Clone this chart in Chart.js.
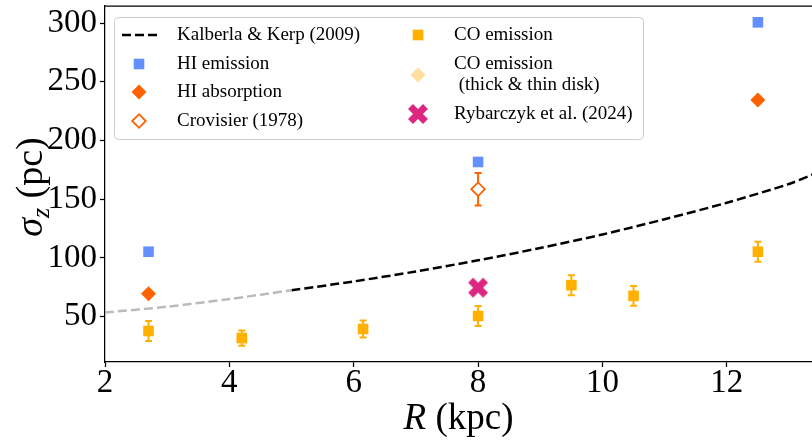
<!DOCTYPE html>
<html><head><meta charset="utf-8">
<script src="https://cdn.jsdelivr.net/npm/chart.js@4/dist/chart.umd.min.js"></script>
<style>html,body{margin:0;padding:0;background:#fff;overflow:hidden}canvas{display:block}</style>
</head><body>
<canvas id="c" width="812" height="440" style="width:812px;height:440px"></canvas>
<script>
// ---- data ----
const kkR = [2, 3, 4, 5, 6, 7, 8, 9, 10, 11, 12, 13, 13.4];
const kkSigma = [53.5, 58.5, 65, 72.5, 80, 88.5, 98, 108.5, 120, 133, 147, 163, 171.5];
const kkSplitR = 5;

const hiEmR = [2.7, 8, 12.5];
const hiEmSigma = [105.3, 181.7, 300.6];
const hiAbsR = [2.7, 12.5];
const hiAbsSigma = [69.5, 234.5];
const crovR = [8];
const crovSigma = [158.5];
const crovErr = [13.8];
const coR = [2.7, 4.2, 6.15, 8, 9.5, 10.5, 12.5];
const coSigma = [37.8, 31.8, 39.5, 50.6, 76.8, 67.7, 105.3];
const coErr = [8.5, 6.5, 7.2, 8.5, 8.5, 8.5, 8.5];
const coDiskR = [];
const coDiskSigma = [];
const rybR = [8];
const rybSigma = [74.7];

const xTicks = [2, 4, 6, 8, 10, 12];
const yTicks = [50, 100, 150, 200, 250, 300];

// ---- styling ----
const C_HIEM = '#648FFF', C_ORANGE = '#FE6100', C_CO = '#FFB000', C_CODISK = '#FFDF9E', C_RYB = '#DC267F';
const FONT = 'Liberation Serif, Times New Roman, serif';

const pts = (xs, ys) => xs.map((x, i) => ({x, y: ys[i]}));
const kkAll = pts(kkR, kkSigma);

function xMarker(color) {
  const c = document.createElement('canvas');
  c.width = 24; c.height = 24;
  const g = c.getContext('2d');
  g.strokeStyle = color; g.lineWidth = 7; g.lineCap = 'butt';
  g.beginPath(); g.moveTo(4.5, 4.5); g.lineTo(19.5, 19.5); g.moveTo(19.5, 4.5); g.lineTo(4.5, 19.5); g.stroke();
  return c;
}
const rybMarker = xMarker(C_RYB);

const datasets = [
  {label: '_kk_inner', data: kkAll.filter(p => p.x <= kkSplitR), showLine: true, borderColor: '#bbbbbb',
   borderWidth: 2.5, borderDash: [9, 4], pointRadius: 0, tension: 0.3},
  {label: 'Kalberla & Kerp (2009)', data: kkAll.filter(p => p.x >= kkSplitR), showLine: true, borderColor: '#000',
   borderWidth: 2.5, borderDash: [9, 4], pointRadius: 0, tension: 0.3, legendLine: true},
  {label: 'HI emission', data: pts(hiEmR, hiEmSigma), pointStyle: 'rect', pointRadius: 7.5,
   backgroundColor: C_HIEM, borderColor: C_HIEM, borderWidth: 0},
  {label: 'HI absorption', data: pts(hiAbsR, hiAbsSigma), pointStyle: 'rectRot', pointRadius: 7.5,
   backgroundColor: C_ORANGE, borderColor: C_ORANGE, borderWidth: 0},
  {label: 'Crovisier (1978)', data: pts(crovR, crovSigma), pointStyle: 'rectRot', pointRadius: 6.8,
   backgroundColor: '#fff', borderColor: C_ORANGE, borderWidth: 1.8, errors: crovErr, errColor: C_ORANGE},
  {label: 'CO emission', data: pts(coR, coSigma), pointStyle: 'rect', pointRadius: 7.5,
   backgroundColor: C_CO, borderColor: C_CO, borderWidth: 0, errors: coErr, errColor: C_CO},
  {label: 'CO emission\n (thick & thin disk)', data: pts(coDiskR, coDiskSigma), pointStyle: 'rectRot', pointRadius: 7.5,
   backgroundColor: C_CODISK, borderColor: C_CODISK, borderWidth: 0},
  {label: 'Rybarczyk et al. (2024)', data: pts(rybR, rybSigma), pointStyle: rybMarker, pointRadius: 10,
   backgroundColor: C_RYB, borderColor: C_RYB, borderWidth: 0}
];

const legendEntries = [
  {ds: 1, mx: 139, tx: 177, y: 35},
  {ds: 2, mx: 139, tx: 177, y: 64},
  {ds: 3, mx: 139, tx: 177, y: 92},
  {ds: 4, mx: 139, tx: 177, y: 121},
  {ds: 5, mx: 418, tx: 454, y: 35},
  {ds: 6, mx: 418, tx: 454, y: 75},
  {ds: 7, mx: 418, tx: 454, y: 114}
];

const errorBars = {
  id: 'errorBars',
  beforeDatasetsDraw(chart) {
    const {ctx, scales: {x, y}} = chart;
    chart.data.datasets.forEach((ds) => {
      if (!ds.errors) return;
      ctx.save();
      ctx.strokeStyle = ds.errColor; ctx.lineWidth = 2;
      ds.data.forEach((p, j) => {
        const px = x.getPixelForValue(p.x);
        const t = y.getPixelForValue(p.y + ds.errors[j]);
        const b = y.getPixelForValue(p.y - ds.errors[j]);
        ctx.beginPath();
        ctx.moveTo(px, t); ctx.lineTo(px, b);
        ctx.moveTo(px - 3.5, t); ctx.lineTo(px + 3.5, t);
        ctx.moveTo(px - 3.5, b); ctx.lineTo(px + 3.5, b);
        ctx.stroke();
      });
      ctx.restore();
    });
  }
};

const frameAndText = {
  id: 'frameAndText',
  afterDraw(chart) {
    const {ctx, chartArea: a} = chart;
    ctx.save();
    ctx.strokeStyle = '#000'; ctx.lineWidth = 1.25;
    ctx.beginPath(); ctx.moveTo(a.left, a.top); ctx.lineTo(a.right + 2, a.top); ctx.stroke();

    ctx.fillStyle = '#000'; ctx.textBaseline = 'alphabetic'; ctx.textAlign = 'left';
    const drawRich = (parts) => {
      let w = 0;
      parts.forEach(p => { ctx.font = p.font; p.w = ctx.measureText(p.t).width; w += p.w; });
      let cx = -w / 2;
      parts.forEach(p => { ctx.font = p.font; ctx.fillText(p.t, cx, p.dy || 0); cx += p.w; });
    };
    ctx.save();
    ctx.translate((a.left + a.right) / 2, 429);
    drawRich([{t: 'R', font: 'italic 37px ' + FONT}, {t: ' (kpc)', font: '37px ' + FONT}]);
    ctx.restore();
    ctx.save();
    ctx.translate(42, (a.top + a.bottom) / 2 + 3);
    ctx.rotate(-Math.PI / 2);
    drawRich([{t: 'σ', font: 'italic 38px ' + FONT}, {t: 'z', font: 'italic 26px ' + FONT, dy: 7},
              {t: ' (pc)', font: '38px ' + FONT}]);
    ctx.restore();

    const bx = 114, by = 17, bw = 529, bh = 122;
    ctx.fillStyle = 'rgba(255,255,255,0.8)'; ctx.strokeStyle = '#cccccc'; ctx.lineWidth = 1;
    ctx.beginPath(); ctx.roundRect(bx + 0.5, by + 0.5, bw, bh, 4); ctx.fill(); ctx.stroke();
    ctx.textBaseline = 'middle'; ctx.textAlign = 'left';
    legendEntries.forEach(e => {
      const ds = chart.data.datasets[e.ds];
      if (ds.legendLine) {
        ctx.save(); ctx.strokeStyle = ds.borderColor; ctx.lineWidth = ds.borderWidth; ctx.setLineDash(ds.borderDash);
        ctx.beginPath(); ctx.moveTo(e.mx - 17, e.y); ctx.lineTo(e.mx + 19, e.y); ctx.stroke(); ctx.restore();
      } else {
        ctx.save(); ctx.fillStyle = ds.backgroundColor; ctx.strokeStyle = ds.borderColor;
        ctx.lineWidth = ds.borderWidth;
        Chart.helpers.drawPoint(ctx, {pointStyle: ds.pointStyle, radius: ds.pointRadius, rotation: 0,
          borderWidth: ds.borderWidth}, e.mx, e.y);
        ctx.restore();
      }
      ctx.fillStyle = '#000'; ctx.font = '19px ' + FONT;
      const lines = ds.label.split('\n');
      const lh = 21;
      lines.forEach((ln, k) => ctx.fillText(ln, e.tx, e.y + (k - (lines.length - 1) / 2) * lh));
    });
    ctx.restore();
  }
};

new Chart(document.getElementById('c'), {
  type: 'scatter',
  data: {datasets},
  options: {
    responsive: false, animation: false, events: [],
    layout: {autoPadding: false, padding: {top: 6, right: 0, left: 0, bottom: 0}},
    plugins: {legend: {display: false}, tooltip: {enabled: false}},
    scales: {
      x: {
        type: 'linear', min: 2, max: 13.37,
        afterBuildTicks: s => { s.ticks = xTicks.map(v => ({value: v})); },
        afterFit: s => { s.height = 78; s.paddingLeft = 0; s.paddingRight = 0; },
        ticks: {font: {family: FONT, size: 33}, color: '#000', padding: -3},
        grid: {drawOnChartArea: false, tickLength: 5, tickColor: '#000', tickWidth: 1.25},
        border: {display: true, color: '#000', width: 1.25}
      },
      y: {
        type: 'linear', min: 11.4, max: 314.5,
        afterBuildTicks: s => { s.ticks = yTicks.map(v => ({value: v})); },
        afterFit: s => { s.width = 105; s.paddingTop = 0; s.paddingBottom = 0; },
        ticks: {font: {family: FONT, size: 33}, color: '#000', padding: 3},
        grid: {drawOnChartArea: false, tickLength: 5, tickColor: '#000', tickWidth: 1.25},
        border: {display: true, color: '#000', width: 1.25}
      }
    }
  },
  plugins: [errorBars, frameAndText]
});
</script>
</body></html>
